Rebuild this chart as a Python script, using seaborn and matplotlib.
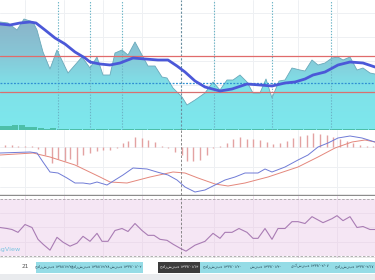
import numpy as np
import pandas as pd
import matplotlib
matplotlib.use("Agg")
import matplotlib.pyplot as plt
from matplotlib.patches import PathPatch
import seaborn as sns

# ---------------- data ----------------
price_x = [0, 8, 17, 24, 33, 37, 43, 50, 57, 68, 82, 90, 97, 103, 110, 115, 122, 128, 135, 142,
           148, 155, 162, 167, 173, 182, 187, 195, 205, 213, 220, 227, 233, 240, 247, 253, 260,
           266, 272, 279, 285, 292, 300, 305, 312, 318, 325, 332, 338, 343, 350, 357, 363, 370, 375]
price = [108, 107, 100, 111, 108, 100, 78, 61, 80, 57, 73, 62, 73, 55, 55, 77, 80, 75, 88, 75,
         64, 64, 53, 52, 42, 33, 25, 30, 37, 48, 40, 50, 50, 55, 48, 37, 37,
         51, 32, 49, 50, 62, 60, 59, 70, 65, 67, 72, 73, 70, 73, 60, 62, 57, 56]

ma_x = [0, 10, 20, 30, 36, 45, 55, 65, 75, 85, 90, 100, 110, 120, 133, 145, 158, 168, 177, 185,
        195, 205, 220, 232, 247, 260, 272, 285, 295, 305, 313, 325, 338, 350, 363, 375]
ma = [106, 105, 107, 108, 107, 100, 92, 86, 78, 72, 68, 66, 65, 67, 72, 71, 70, 70, 64, 58,
      49, 43, 39, 41, 46, 45, 44, 47, 48, 51, 55, 58, 65, 68, 67, 63]

level_hi, level_lo, level_mid = 74, 38, 47

vol_x = [3, 9, 15, 22, 28, 34, 41, 47, 53, 60, 66, 73, 79, 86, 92, 99, 105, 112, 118, 125,
         131, 138, 144, 151, 157, 164, 170, 177, 183, 190, 196, 203, 209, 216, 222, 229, 235,
         242, 248, 255, 261, 268, 274, 281, 287, 294, 300, 307, 313, 320, 326, 333, 339, 346,
         352, 359, 365, 372]
vol = [4, 4, 5, 5, 3, 3, 2, 1.5, 2, 1.5, 1, 1, 1, 1.5, 1.5, 1, 1, 1.5, 1.5, 1.5,
       1, 1, 1, 1, 1, 1, 1, 1.5, 1, 1, 1, 1, 1, 1, 1, 1, 1,
       1, 1, 1, 1, 1.5, 1, 1, 1, 1, 1, 1, 1, 1, 1, 1, 1, 1,
       1, 1, 1, 1]

macd_x = [0, 30, 37, 43, 50, 58, 67, 75, 83, 90, 97, 107, 115, 123, 133, 147, 157, 168, 177, 185,
          195, 205, 215, 225, 235, 245, 258, 265, 272, 285, 298, 308, 318, 328, 338, 350, 362, 375]
macd = [-6, -5, -6, -15, -25, -26, -31, -36, -36, -37, -35, -38, -33, -28, -21, -22, -25, -28, -33, -40,
        -45, -43, -38, -33, -30, -26, -26, -22, -25, -20, -13, -8, 0, 4, 9, 11, 9, 5]
signal_x = [0, 33, 50, 75, 100, 110, 127, 150, 173, 185, 198, 215, 228, 245, 268, 298, 318, 335,
            352, 365, 375]
signal = [-8, -6, -10, -18, -30, -35, -36, -30, -25, -26, -31, -37, -39, -36, -30, -20, -10, -1,
          5, 7, 5]

hist_x = [5, 12, 18, 25, 32, 38, 45, 52, 58, 65, 70, 77, 83, 90, 97, 103, 110, 117, 123, 128,
          135, 142, 148, 155, 162, 168, 175, 182, 187, 193, 200, 207, 213, 220, 227, 233, 240, 247,
          253, 260, 267, 273, 280, 287, 293, 300, 307, 313, 320, 327, 333, 340, 347, 353, 360, 367, 373]
hist = [2, 2, 0.5, 1, 1, -2, -8, -16, -12, -14, -12, -18, -8, -6, -4, -3, -3, -1, 4, 6,
        10, 9, 7, 5, 1, -1, -5, -8, -14, -14, -13, -8, -1, 1, 4, 8, 10, 8,
        8, 7, 5, 3, 4, 6, 9, 11, 12, 14, 13, 12, 10, 8, 6, 4, 2, 1, 0.5]

rsi_x = [0, 7, 12, 18, 25, 32, 38, 43, 50, 57, 63, 70, 77, 83, 90, 97, 102, 108, 115, 122, 128,
         135, 142, 148, 154, 160, 167, 173, 180, 186, 195, 205, 213, 220, 225, 232, 239, 247, 253,
         258, 265, 272, 278, 285, 292, 298, 305, 312, 323, 332, 337, 343, 350, 357, 363, 370, 375]
rsi = [50.0, 49.3, 48.6, 46.6, 52.1, 50.0, 41.7, 38.3, 34.1, 43.1, 39.7, 36.9, 39.0, 43.8, 40.3,
       45.9, 40.3, 40.3, 47.9, 49.3, 47.2, 52.8, 47.9, 44.5, 44.5, 41.7, 41.0, 38.3, 35.5, 33.4,
       37.6, 40.3, 45.9, 42.4, 46.6, 46.6, 49.3, 46.6, 42.4, 42.4, 49.3, 41.7, 49.3, 49.3, 54.1,
       54.1, 52.8, 57.6, 53.4, 56.2, 58.3, 54.8, 57.6, 50.0, 50.7, 48.6, 48.6]

marker_x = [58, 90, 122, 214, 272, 331]
cursor_x = 181
axis_label = "21"
left_labels = ["چهارشنبه ۱۳۹۸/۱۲/۲۱", "چهارشنبه ۱۳۹۸/۱۲/۲۸", "شنبه ۱۳۹۹/۰۱/۰۲"]
cursor_label = "چهارشنبه ۱۳۹۹/۰۱/۱۳"
right_labels = ["چهارشنبه ۱۳۹۹/۰۱/۲۰", "شنبه ۱۳۹۹/۰۱/۳۰", "یکشنبه ۱۳۹۹/۰۲/۰۷", "چهارشنبه ۱۳۹۹/۰۲/۱۷"]

# ---------------- figure ----------------
sns.set_theme(style="white")
plt.rcParams['font.family'] = ['DejaVu Sans']

W, H = 375, 280
fig = plt.figure(figsize=(3.75, 2.8), dpi=100)
fig.patch.set_facecolor('#e9ebee')


def px_axes(top, bottom):
    ax = fig.add_axes([0, 1 - bottom / H, 1, (bottom - top) / H])
    ax.set_xlim(0, 375)
    ax.set_xticks([])
    ax.set_yticks([])
    for s in ax.spines.values():
        s.set_visible(False)
    ax.set_facecolor('white')
    return ax


ax1 = px_axes(0, 130)
ax2 = px_axes(130, 195)
ax3 = px_axes(196, 258)
ax4 = px_axes(258, 274)

grid_x = [25, 64, 103, 142, 214, 253, 298, 337]
gcol = '#eef0f3'

# ---- price pane ----
ax1.set_ylim(0, 130)
for gx in grid_x:
    ax1.axvline(gx, color=gcol, lw=0.7, zorder=0)
for gy in [117, 93, 69, 45, 21]:
    ax1.axhline(gy, color=gcol, lw=0.7, zorder=0)

poly = ax1.fill_between(price_x, price, 0, color='none', lw=0)
path = poly.get_paths()[0]
clip = PathPatch(path, transform=ax1.transData, facecolor='none', edgecolor='none')
ax1.add_patch(clip)
stops_v = np.array([0, 45, 75, 130])
stops_c = np.array([[0.49, 0.91, 0.93], [0.50, 0.88, 0.91], [0.53, 0.78, 0.84], [0.55, 0.66, 0.76]])
vv = np.linspace(0, 130, 300)
rgb = np.stack([np.interp(vv, stops_v, stops_c[:, k]) for k in range(3)], axis=1)[:, None, :]
im = ax1.imshow(rgb, extent=[0, 375, 0, 130], aspect='auto', origin='lower', zorder=1)
im.set_clip_path(clip)
sns.lineplot(x=price_x, y=price, ax=ax1, color='#6aa9ba', linewidth=0.6, zorder=2)

ax1.bar(vol_x, vol, width=6.4, bottom=0, color='#4dbfa9', linewidth=0, zorder=3)

for mx in marker_x:
    ax1.axvline(mx, color='#6bb4c6', lw=0.8, ls=(0, (1.2, 1.4)), zorder=4)
ax1.axvline(cursor_x, color='#6a8fa0', lw=0.8, ls=(0, (2, 1.5)), zorder=4)

ax1.axhline(level_hi, color='#e06b6b', lw=0.9, zorder=5)
ax1.axhline(level_lo, color='#d87070', lw=0.9, zorder=5)
ax1.axhline(level_mid, color='#2f8fd3', lw=0.9, ls=(0, (1.5, 1.2)), zorder=5)

sns.lineplot(x=ma_x, y=ma, ax=ax1, color='#4b58d8', linewidth=2.0, zorder=6)
ax1.set_xlim(0, 375)
ax1.set_xlabel('')
ax1.set_ylabel('')

# ---- MACD pane ----
ax2.set_ylim(-48, 17)
for gx in grid_x:
    ax2.axvline(gx, color=gcol, lw=0.7, zorder=0)
for gy in [0, -20, -40]:
    ax2.axhline(gy, color=gcol, lw=0.7, zorder=0)
ax2.vlines(hist_x, 0, hist, color='#e3a2a2', lw=1.0, zorder=2)
sns.lineplot(x=signal_x, y=signal, ax=ax2, color='#e4877c', linewidth=0.7, zorder=3)
sns.lineplot(x=macd_x, y=macd, ax=ax2, color='#6f7bd6', linewidth=0.7, zorder=4)
ax2.axvline(cursor_x, color='#777777', lw=0.6, ls=(0, (3, 2)), zorder=5)
ax2.spines['bottom'].set_visible(True)
ax2.spines['bottom'].set_color('#8c8c8c')
ax2.spines['bottom'].set_linewidth(1.0)
ax2.set_xlim(0, 375)
ax2.set_xlabel('')
ax2.set_ylabel('')

# ---- RSI pane ----
ax3.set_ylim(28.6, 72.1)
ax3.axhspan(30, 70, color='#f5e6f4', zorder=0, lw=0)
for gx in grid_x:
    ax3.axvline(gx, color='#ecdcec', lw=0.7, zorder=1)
for gy in [40, 50, 60]:
    ax3.axhline(gy, color='#ecdcec', lw=0.7, zorder=1)
ax3.axhline(70, color='#a3a3a3', lw=0.6, ls=(0, (3, 2)), zorder=2)
ax3.axhline(30, color='#a3a3a3', lw=0.6, ls=(0, (3, 2)), zorder=2)
ax3.axvline(cursor_x, color='#777777', lw=0.6, ls=(0, (3, 2)), zorder=2)
sns.lineplot(x=rsi_x, y=rsi, ax=ax3, color='#a97cb4', linewidth=0.8, zorder=3)
ax3.spines['bottom'].set_visible(True)
ax3.spines['bottom'].set_color('#8c8c8c')
ax3.spines['bottom'].set_linewidth(1.0)
ax3.set_xlim(0, 375)
ax3.set_xlabel('')
ax3.set_ylabel('')
fig.text(20 / W, 1 - 250 / H, 'TradingView', ha='right', va='center', fontsize=4.6,
         color='#79c3e0')

# ---- time axis ----
ax4.set_ylim(0, 16)
ax4.axvspan(36, 143, ymin=1 / 16, ymax=12 / 16, color='#95dce6', lw=0)
ax4.axvspan(158, 200, ymin=1 / 16, ymax=12 / 16, color='#3c3c3c', lw=0)
ax4.axvspan(200, 375, ymin=1 / 16, ymax=12 / 16, color='#95dce6', lw=0)
ax4.text(25, 7.5, axis_label, ha='center', va='center', fontsize=4.2, color='#555555')
for cx, lab in zip([54, 90, 126], left_labels):
    ax4.text(cx, 7.5, lab, ha='center', va='center', fontsize=2.6, color='#1e3d4c')
ax4.text(179, 7.5, cursor_label, ha='center', va='center', fontsize=2.6, color='white')
for cx, lab in zip([222, 266, 310, 354], right_labels):
    ax4.text(cx, 7.5, lab, ha='center', va='center', fontsize=2.6, color='#1e3d4c')

fig.savefig('out.png', dpi=100, facecolor=fig.get_facecolor())
